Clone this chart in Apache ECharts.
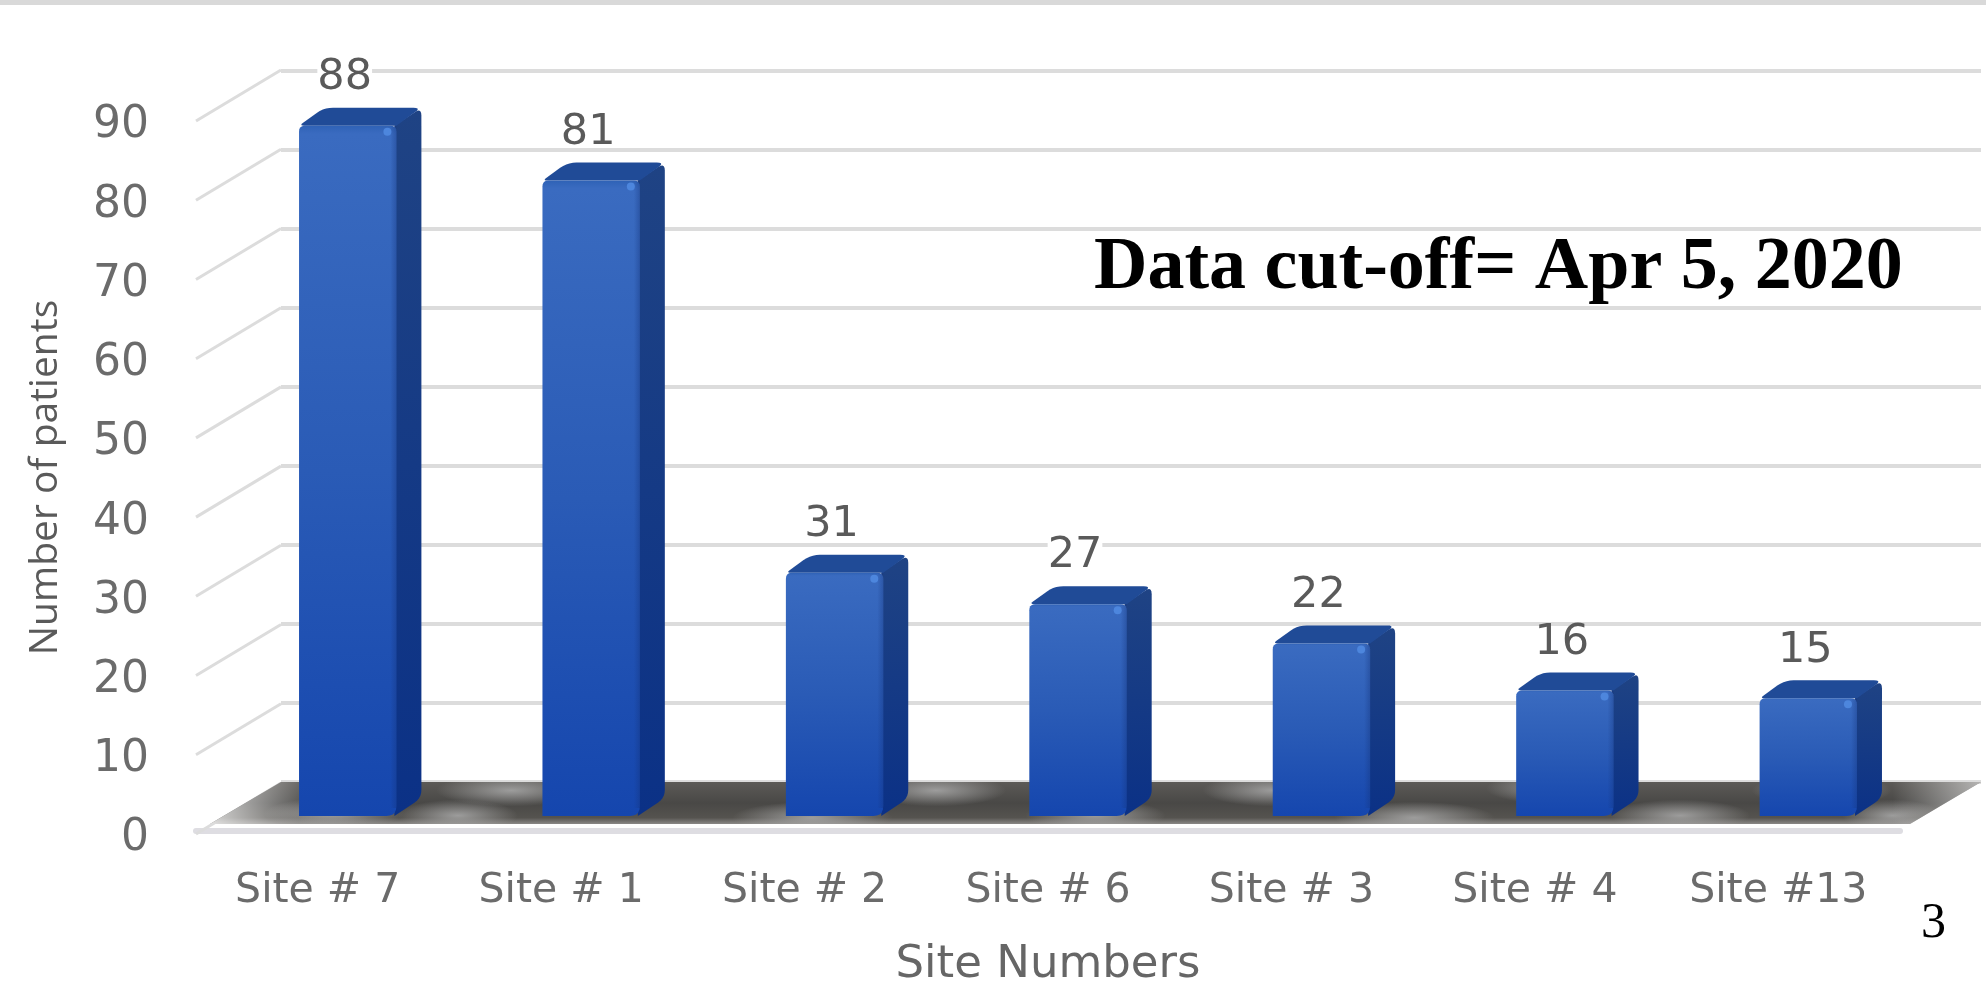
<!DOCTYPE html>
<html><head><meta charset="utf-8">
<style>html,body{margin:0;padding:0;background:#fff}#c{width:1986px;height:988px}</style>
<script src="https://cdn.jsdelivr.net/npm/echarts@6/dist/echarts.min.js"></script>
</head><body><div id="c"></div>
<script>
const categories = ['Site # 7','Site # 1','Site # 2','Site # 6','Site # 3','Site # 4','Site #13'];
const patients = [88,81,31,27,22,16,15];
const yTicks = [0,10,20,30,40,50,60,70,80,90];
const axisName = 'Number of patients';
const catName = 'Site Numbers';
const note = 'Data cut-off= Apr 5, 2020';
const pageNo = '3';

const G = echarts.graphic;
const LG = (x0,y0,x1,y1,stops)=>new G.LinearGradient(x0,y0,x1,y1,stops.map((c,i)=>Array.isArray(c)?{offset:c[0],color:c[1]}:{offset:i/(stops.length-1),color:c}));

function rounded(pts, radii){
  const out=[]; const n=pts.length;
  for(let i=0;i<n;i++){
    const p=pts[i],a=pts[(i+n-1)%n],b=pts[(i+1)%n],r=radii[i];
    if(!r){out.push(p);continue;}
    const la=Math.hypot(a[0]-p[0],a[1]-p[1]),lb=Math.hypot(b[0]-p[0],b[1]-p[1]);
    const s=[p[0]+(a[0]-p[0])*r/la,p[1]+(a[1]-p[1])*r/la],e=[p[0]+(b[0]-p[0])*r/lb,p[1]+(b[1]-p[1])*r/lb];
    for(let t=0;t<=1.001;t+=0.2){
      const u=1-t;
      out.push([u*u*s[0]+2*u*t*p[0]+t*t*e[0],u*u*s[1]+2*u*t*p[1]+t*t*e[1]]);
    }
  }
  return out;
}

const BAR_DX=25, BAR_DY=18, BAR_RATIO=0.4, WALL_DX=85, WALL_DY=51, FLOOR_DX=71, FLOOR_DY=42;
// soft lighter patches on the floor: [fraction along floor, fraction across floor, half-width]
const FLOOR_PATCHES=[[0.07,0.75,70],[0.17,0.2,75],[0.14,0.8,60],[0.34,0.85,80],[0.41,0.2,70],[0.50,0.8,70],[0.60,0.2,70],[0.68,0.85,80],[0.76,0.15,70],[0.83,0.8,70],[0.91,0.2,70],[0.95,0.8,50]];

function renderBar(params, api){
  const cat=api.value(0), val=api.value(1);
  const top=api.coord([cat,val]), base=api.coord([cat,0]);
  const w=api.size([1,0])[0]*BAR_RATIO;
  const x0=top[0]-w/2, x1=top[0]+w/2, y=top[1], b=base[1];
  const front=rounded([[x0,y],[x1,y],[x1,b],[x0,b]],[6,6,10,0]);
  const side=rounded([[x1-2,y],[x1+BAR_DX,y-BAR_DY],[x1+BAR_DX,b-BAR_DY],[x1-2,b]],[0,8,8,0]);
  const topF=rounded([[x0,y],[x0+BAR_DX,y-BAR_DY],[x1+BAR_DX,y-BAR_DY],[x1,y]],[5,9,8,0]);
  return {type:'group',children:[
    {type:'polygon',shape:{points:side},style:{fill:LG(0,0,0,1,['#1f4384','#0b3186'])}},
    {type:'polygon',shape:{points:topF},style:{fill:'#204b97'}},
    {type:'polygon',shape:{points:front},style:{fill:LG(0,0,0,1,[[0,'#2f62b6'],[0.012,'#3a6bc0'],[0.5,'#2a5bb6'],[1,'#1546ae']])}},
    {type:'rect',shape:{x:x1-6,y:y,width:6,height:b-y-8},style:{fill:LG(0,0,1,0,['rgba(20,50,120,0)','rgba(20,50,120,0.35)'])}},
    {type:'circle',shape:{cx:x1-9,cy:y+6,r:4},style:{fill:'#4d86dd'}},
    {type:'text',x:top[0]-3,y:y-BAR_DY-30,style:{text:String(val),fill:'#5a5a5a',font:'43px "DejaVu Sans"',align:'center',verticalAlign:'middle',backgroundColor:'#fff',lineHeight:30}}
  ]};
}

function renderConnector(params, api){
  const v=api.value(1), p=api.coord([0,v]), x=params.coordSys.x;
  return {type:'line',shape:{x1:x,y1:p[1],x2:x+WALL_DX,y2:p[1]-WALL_DY},style:{stroke:'#dcdcdc',lineWidth:3}};
}

function renderFloor(params, api){
  const cs=params.coordSys, y=cs.y+cs.height, L=cs.x, R=cs.x+cs.width;
  const corners=[[L,y],[R,y],[R-FLOOR_DX,y+FLOOR_DY],[L-FLOOR_DX,y+FLOOR_DY]];
  const spanL=L-FLOOR_DX, spanW=R-L+FLOOR_DX, ry=16;
  const patches=FLOOR_PATCHES.map(p=>({
    type:'circle',
    x:spanL+spanW*p[0], y:y+FLOOR_DY*p[1], scaleX:p[2]/ry, scaleY:1,
    shape:{cx:0,cy:0,r:ry},
    style:{fill:new G.RadialGradient(0.5,0.5,0.5,[{offset:0,color:'rgba(175,175,175,.8)'},{offset:1,color:'rgba(175,175,175,0)'}])}
  }));
  return {type:'group',children:[
    {type:'polygon',shape:{points:corners},style:{fill:LG(0,0,0,1,[[0,'#5c5a57'],[0.5,'#494846'],[0.85,'#55534f'],[1,'#8a8886']])}},
    {type:'group',children:patches,clipPath:{type:'polygon',shape:{points:corners}}},
    {type:'polygon',shape:{points:corners},style:{fill:LG(0,0,1,0,[[0,'rgba(255,255,255,.75)'],[0.05,'rgba(255,255,255,.1)'],[0.09,'rgba(255,255,255,0)'],[0.95,'rgba(255,255,255,0)'],[1,'rgba(255,255,255,.55)']])}}
  ]};
}

const chart=echarts.init(document.getElementById('c'),null,{renderer:'canvas',width:1986,height:988});
chart.setOption({
  animation:false,
  backgroundColor:'#ffffff',
  grid:[
    {left:196,top:121,width:1704,height:713,outerBoundsMode:'none'},
    {left:226,top:110,width:1704,height:706,outerBoundsMode:'none'},
    {left:281,top:71,width:1700,height:711,outerBoundsMode:'none'}
  ],
  xAxis:[
    {gridIndex:0,type:'category',data:categories,name:catName,nameLocation:'center',nameGap:112,offset:-3,
     nameTextStyle:{fontFamily:'"DejaVu Sans"',fontSize:45,color:'#666'},
     axisLine:{lineStyle:{color:'#dedde2',width:6}},axisTick:{show:false},
     axisLabel:{margin:40,fontFamily:'"DejaVu Sans"',fontSize:41,color:'#6b6b6b'}},
    {gridIndex:1,type:'category',data:categories,show:false},
    {gridIndex:2,type:'category',data:categories,show:false}
  ],
  yAxis:[
    {gridIndex:0,type:'value',min:0,max:90,interval:10,name:axisName,nameLocation:'center',nameGap:131,nameRotate:90,
     nameTextStyle:{fontFamily:'"Open Sans"',fontSize:39,color:'#5a5a5a'},
     axisLine:{show:false},axisTick:{show:false},splitLine:{show:false},
     axisLabel:{margin:47,verticalAlign:'top',lineHeight:10,fontFamily:'"DejaVu Sans"',fontSize:44,color:'#6b6b6b'}},
    {gridIndex:1,type:'value',min:0,max:90,interval:10,show:false},
    {gridIndex:2,type:'value',min:0,max:90,interval:10,
     axisLine:{show:false},axisTick:{show:false},axisLabel:{show:false},
     splitLine:{lineStyle:{color:'#dcdcdc',width:4}}}
  ],
  series:[
    {type:'custom',name:'wall connectors',xAxisIndex:0,yAxisIndex:0,z:2,silent:true,clip:false,
     data:yTicks.map(v=>[0,v]),renderItem:renderConnector},
    {type:'custom',name:'floor',xAxisIndex:2,yAxisIndex:2,z:3,silent:true,clip:false,
     data:[[0,0]],renderItem:renderFloor},
    {type:'custom',name:'Number of patients',xAxisIndex:1,yAxisIndex:1,z:5,clip:false,
     data:patients.map((v,i)=>[i,v]),renderItem:renderBar}
  ],
  graphic:[
    {type:'rect',z:10,left:0,top:0,shape:{width:1986,height:5},style:{fill:'#d9d9d9'}},
    {type:'text',z:10,left:1094,top:232,style:{text:note,font:'bold 74px "Liberation Serif"',fill:'#000'}},
    {type:'text',z:10,left:1921,top:899,style:{text:pageNo,font:'50px "Liberation Serif"',fill:'#000'}}
  ]
});
</script></body></html>
